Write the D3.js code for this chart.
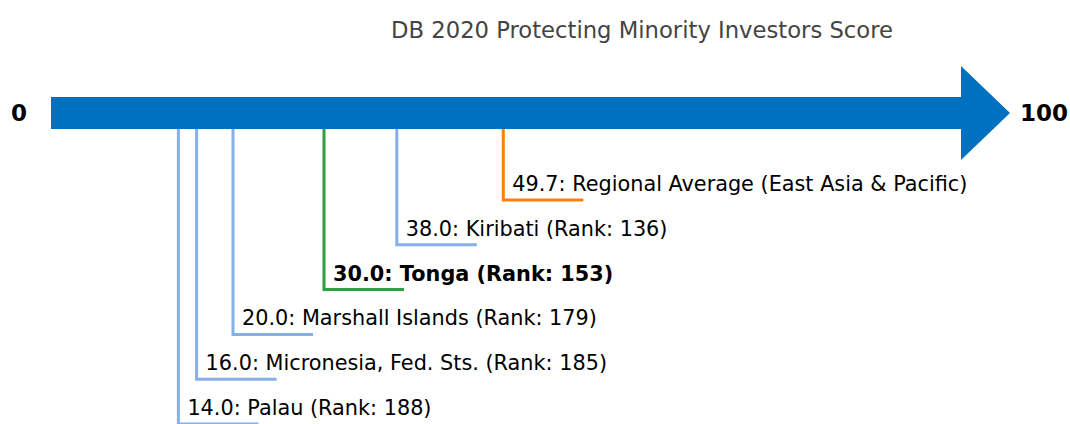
<!DOCTYPE html>
<html>
<head>
<meta charset="utf-8">
<script src="https://cdn.jsdelivr.net/npm/d3@7"></script>
<style>
  body { margin: 0; background: #fff; }
  text { font-family: "DejaVu Sans", sans-serif; }
</style>
</head>
<body>
<div id="vis"></div>
<script>
// data
const names = ['Regional Average (East Asia & Pacific)', 'Kiribati', 'Tonga', 'Marshall Islands', 'Micronesia, Fed. Sts.', 'Palau']
const scores = [49.7, 38.0, 30.0, 20.0, 16.0, 14.0]
const ranks = [null, 136, 153, 179, 185, 188]
const kinds = ['average', 'peer', 'focus', 'peer', 'peer', 'peer']

const width = 1070
const height = 424

const svg = d3.select('#vis')
    .append('svg')
    .attr('width', width)
    .attr('height', height)

//score scale, 0 at the start of the arrow, 100 where the head starts
const x = d3.scaleLinear().domain([0, 100]).range([51, 961])
//each label gets its own row under the arrow
const y = d3.scalePoint().domain(d3.range(scores.length)).range([200, 424])

const color = d3.scaleOrdinal()
    .domain(['average', 'peer', 'focus'])
    .range(['#ff7f0e', '#86b0e8', '#2ca042'])

svg.append('text')
    .attr('x', 642)
    .attr('y', 38)
    .attr('text-anchor', 'middle')
    .style('font-size', '22.7px')
    .style('fill', '#444')
    .text('DB 2020 Protecting Minority Investors Score')

//the arrow
const arrowY = 113
svg.append('path')
    .attr('d', `M${x(0)},${arrowY - 16} L${x(100)},${arrowY - 16} L${x(100)},66 L1010,${arrowY} L${x(100)},160 L${x(100)},${arrowY + 16} L${x(0)},${arrowY + 16} Z`)
    .attr('fill', '#0070c0')

svg.append('text')
    .attr('x', 19)
    .attr('y', arrowY)
    .attr('dy', '0.35em')
    .attr('text-anchor', 'middle')
    .style('font-size', '23px')
    .style('font-weight', 'bold')
    .text('0')

svg.append('text')
    .attr('x', 1020)
    .attr('y', arrowY)
    .attr('dy', '0.35em')
    .style('font-size', '23px')
    .style('font-weight', 'bold')
    .text('100')

const rows = svg.selectAll('.mark')
    .data(scores)
    .enter()
    .append('g')
    .attr('class', 'mark')

//leader line: down from the arrow, then a short foot to the right
rows.append('path')
    .attr('d', (d, i) => `M${x(d)},${arrowY + 16} L${x(d)},${y(i)} L${x(d) + 80},${y(i)}`)
    .attr('fill', 'none')
    .attr('stroke', (d, i) => color(kinds[i]))
    .attr('stroke-width', 3)

rows.append('text')
    .attr('x', d => x(d) + 9)
    .attr('y', (d, i) => y(i) - 9)
    .style('font-size', '20.8px')
    .style('font-weight', (d, i) => kinds[i] === 'focus' ? 'bold' : 'normal')
    .text((d, i) => ranks[i] === null
        ? `${d.toFixed(1)}: ${names[i]}`
        : `${d.toFixed(1)}: ${names[i]} (Rank: ${ranks[i]})`)
</script>
</body>
</html>
